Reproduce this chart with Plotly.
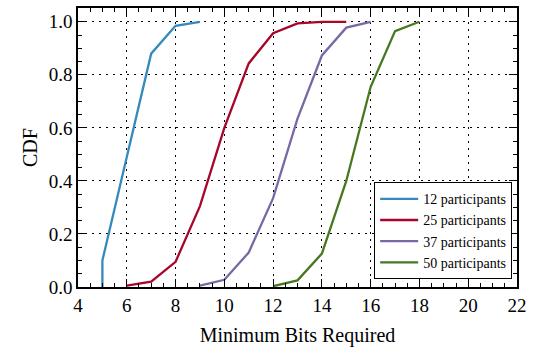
import plotly.graph_objects as go

bits = [5, 5, 6, 7, 8, 9]
cdf_12 = [0.0, 0.10, 0.49, 0.88, 0.985, 1.0]
bits_25 = [6, 7, 8, 9, 10, 11, 12, 13, 14, 15]
cdf_25 = [0.005, 0.02, 0.095, 0.305, 0.60, 0.843, 0.957, 0.994, 1.0, 1.0]
bits_37 = [9, 10, 11, 12, 13, 14, 15, 16]
cdf_37 = [0.005, 0.027, 0.13, 0.335, 0.635, 0.873, 0.978, 1.0]
bits_50 = [12, 13, 14, 15, 16, 17, 18]
cdf_50 = [0.003, 0.025, 0.126, 0.40, 0.755, 0.965, 1.0]

names = ["12 participants", "25 participants", "37 participants", "50 participants"]
colors = ["#348ABD", "#A60628", "#7A68A6", "#467821"]
xs = [bits, bits_25, bits_37, bits_50]
ys = [cdf_12, cdf_25, cdf_37, cdf_50]

fig = go.Figure()
for x, y, n, c in zip(xs, ys, names, colors):
    fig.add_trace(go.Scatter(x=x, y=y, mode="lines", name=n,
                             line=dict(color=c, width=2.3)))

font = dict(family="Liberation Serif", color="black")
axis_common = dict(
    showline=True, linecolor="black", linewidth=1.5, mirror="ticks",
    ticks="inside", ticklen=8, tickwidth=1.2, tickcolor="black",
    showgrid=True, gridcolor="black", gridwidth=1, griddash="2px,5px",
    zeroline=False, tickfont=dict(size=19, **font),
)
fig.update_layout(
    width=533, height=349,
    margin=dict(l=78, r=15, t=6, b=60),
    paper_bgcolor="white", plot_bgcolor="white",
    font=font,
    xaxis=dict(range=[4, 22], tickmode="linear", tick0=4, dtick=2,
               minor=dict(dtick=0.5, ticks="inside", ticklen=4, tickcolor="black", showgrid=False),
               title=dict(text="Minimum Bits Required", font=dict(size=20, **font), standoff=13),
               **axis_common),
    yaxis=dict(range=[0, 1.052], tickmode="linear", tick0=0, dtick=0.2, tickformat=".1f",
               minor=dict(dtick=0.05, ticks="inside", ticklen=4, tickcolor="black", showgrid=False),
               title=dict(text="CDF", font=dict(size=20, **font), standoff=6),
               **axis_common),
    legend=dict(x=0.989, y=0.028, xanchor="right", yanchor="bottom",
                bordercolor="black", borderwidth=1, bgcolor="white",
                font=dict(size=14, **font), tracegroupgap=0, itemwidth=38),
    showlegend=True,
)
fig.write_html("out.html", config={"displayModeBar": False},
               post_script="document.body.style.margin='0';")
